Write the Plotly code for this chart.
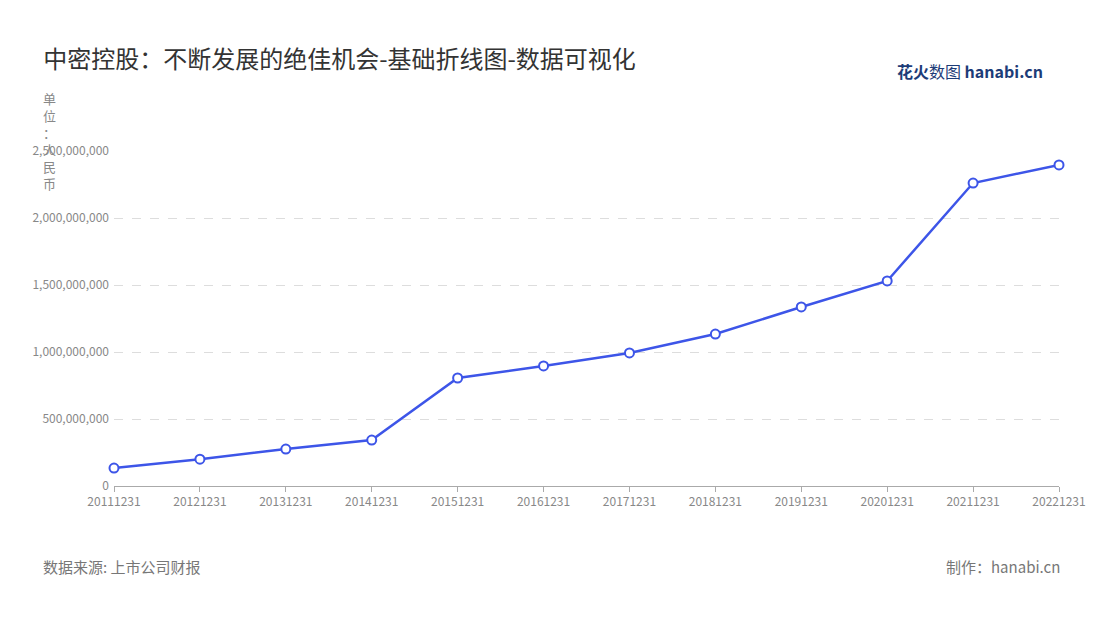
import plotly.graph_objects as go

years = ["20111231","20121231","20131231","20141231","20151231","20161231",
         "20171231","20181231","20191231","20201231","20211231","20221231"]
values = [134e6, 200e6, 276e6, 343e6, 806e6, 896e6, 993e6, 1134e6, 1336e6, 1530e6, 2261e6, 2396e6]
yticks = [0, 500e6, 1000e6, 1500e6, 2000e6, 2500e6]
yticklabels = ["0", "500,000,000", "1,000,000,000", "1,500,000,000", "2,000,000,000", "2,500,000,000"]

font = "Noto Sans CJK SC"
fig = go.Figure(go.Scatter(
    x=list(range(len(years))), y=values, mode="lines+markers",
    line=dict(color="#3d55e8", width=2.5),
    marker=dict(size=9, color="white", line=dict(color="#3d55e8", width=2)),
    cliponaxis=False, hoverinfo="x+y"))

fig.update_layout(
    width=1100, height=620, plot_bgcolor="white", paper_bgcolor="white",
    margin=dict(l=106, r=49, t=143, b=142), showlegend=False,
    font=dict(family=font, color="#888"),
    title=dict(text="中密控股：不断发展的绝佳机会-基础折线图-数据可视化", x=0.032, y=0.93,
               xanchor="left", font=dict(size=24, color="#333", family=font)),
    xaxis=dict(tickmode="array", tickvals=list(range(len(years))), ticktext=years,
               range=[0, len(years)-1], showgrid=False, showline=True, linecolor="#aaa",
               ticks="outside", ticklen=5, tickcolor="#aaa", tickfont=dict(size=12, color="#888"),
               zeroline=False),
    yaxis=dict(tickmode="array", tickvals=yticks, ticktext=yticklabels, range=[0, 2.5e9],
               showgrid=True, gridcolor="#ddd", griddash="dash", zeroline=False,
               tickfont=dict(size=12, color="#888"), ticklabelstandoff=4),
    annotations=[
        dict(text="单<br>位<br>：<br>人<br>民<br>币", xref="paper", yref="paper", x=-0.068, y=1.19,
             xanchor="center", yanchor="top", showarrow=False, font=dict(size=13, color="#888"),
             align="center"),
        dict(text="数据来源: 上市公司财报", xref="paper", yref="paper", x=-0.077, y=-0.24,
             xanchor="left", yanchor="middle", showarrow=False, font=dict(size=15, color="#777")),
        dict(text="制作：hanabi.cn", xref="paper", yref="paper", x=1.003, y=-0.24,
             xanchor="right", yanchor="middle", showarrow=False, font=dict(size=15, color="#777")),
        dict(text="<b>花火</b>数图 <b>hanabi.cn</b>", xref="paper", yref="paper", x=0.985, y=1.24,
             xanchor="right", yanchor="middle", showarrow=False, font=dict(size=16, color="#1d3c78")),
    ])
fig.write_html("out.html")
